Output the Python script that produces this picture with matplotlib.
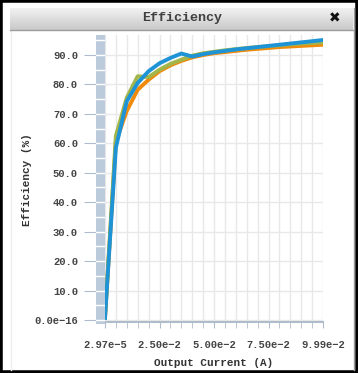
import numpy as np
import matplotlib
matplotlib.use("Agg")
import matplotlib.pyplot as plt
from matplotlib.patches import Rectangle
from matplotlib.lines import Line2D

# data
current = [2.97e-5, 0.005, 0.010, 0.015, 0.020, 0.025, 0.030, 0.035, 0.040, 0.045,
           0.050, 0.055, 0.060, 0.065, 0.070, 0.075, 0.080, 0.085, 0.090, 0.095, 0.0999]
eff_blue = [0.7, 58.5, 74.3, 80.5, 84.5, 87.2, 89.0, 90.5, 89.5, 90.3,
            90.9, 91.4, 91.9, 92.3, 92.7, 93.1, 93.5, 93.9, 94.3, 94.7, 95.1]
eff_green = [0.7, 62.5, 75.5, 82.8, 82.5, 85.0, 87.0, 88.4, 89.8, 90.6,
             91.1, 91.6, 92.0, 92.4, 92.7, 93.0, 93.3, 93.6, 93.9, 94.1, 94.3]
eff_orange = [0.7, 60.5, 71.0, 78.2, 81.6, 84.5, 86.5, 88.0, 89.2, 90.0,
              90.6, 91.0, 91.4, 91.8, 92.1, 92.4, 92.7, 92.9, 93.1, 93.3, 93.5]
y_ticks = [0, 10, 20, 30, 40, 50, 60, 70, 80, 90]
y_labels = ["0.0e\u221216", "10.0", "20.0", "30.0", "40.0", "50.0", "60.0", "70.0", "80.0", "90.0"]
x_labels = ["2.97e\u22125", "2.50e\u22122", "5.00e\u22122", "7.50e\u22122", "9.99e\u22122"]

W, H = 358, 373
fig = plt.figure(figsize=(W / 100, H / 100), dpi=100)
fig.patch.set_facecolor("white")

def fx(px):
    return px / W

def fy(py):
    return 1 - py / H

MONO = ["Liberation Mono", "DejaVu Sans Mono"]

# window frame
fig.add_artist(Rectangle((0, 0), 1, 1, transform=fig.transFigure, fill=False,
                         edgecolor="black", lw=4))
fig.add_artist(Line2D([fx(10.5), fx(10.5)], [fy(30), fy(370)], transform=fig.transFigure,
                      color="#eeeeee", lw=1))
fig.add_artist(Line2D([fx(354), fx(354)], [fy(8), fy(370)], transform=fig.transFigure,
                      color="#9a9a9a", lw=1))

# title bar with gradient
tb = fig.add_axes([fx(10), fy(30), fx(353) - fx(10), fy(8) - fy(30)])
grad = np.linspace(0, 1, 50).reshape(-1, 1)
tb.imshow(grad, aspect="auto", cmap=matplotlib.colors.LinearSegmentedColormap.from_list(
    "tb", ["#f2f2f2", "#c9c9c9"]), extent=[0, 1, 0, 1])
tb.set_axis_off()
fig.add_artist(Line2D([fx(10), fx(353)], [fy(30), fy(30)], transform=fig.transFigure,
                      color="#9c9c9c", lw=1))
fig.text(fx(182), fy(18.5), "Efficiency", ha="center", va="center", fontsize=9.6,
         fontweight="bold", family=MONO, color="#404040")
fig.text(fx(335), fy(18), "\u2716", ha="center", va="center", fontsize=10,
         family=["DejaVu Sans"], color="#111111")

# main plot
left, right, top, bottom = 105, 323, 35, 322
ax = fig.add_axes([fx(left), fy(bottom), fx(right) - fx(left), fy(top) - fy(bottom)])
ax.set_xlim(current[0], current[-1])
ax.set_ylim(-0.7, 96.8)
for s in ["left", "right", "top"]:
    ax.spines[s].set_visible(False)
ax.spines["bottom"].set_color("#b0bccb")
ax.spines["bottom"].set_linewidth(1.5)

xt = np.linspace(current[0], current[-1], 5)
ax.set_xticks(xt)
ax.set_xticklabels(x_labels, family=MONO, fontweight="bold", fontsize=7.6, color="#444444")
ax.set_xticks(np.linspace(current[0], current[-1], 21), minor=True)
ax.tick_params(axis="x", which="both", length=4, color="#b0bccb", pad=9)
ax.set_yticks(y_ticks)
ax.tick_params(axis="y", left=False, labelleft=False)
ax.grid(True, which="minor", axis="x", color="#e8e8e8", lw=1)
ax.grid(True, which="major", axis="x", color="#e8e8e8", lw=1)
ax.grid(True, which="major", axis="y", color="#e8e8e8", lw=1)
ax.set_axisbelow(True)

ax.plot(current, eff_orange, color="#ef8a0a", lw=2.8, solid_joinstyle="round")
ax.plot(current, eff_green, color="#a3b64b", lw=2.8, solid_joinstyle="round")
ax.plot(current, eff_blue, color="#1e93d6", lw=2.8, solid_joinstyle="round")

ax.set_xlabel("Output Current (A)", family=MONO, fontweight="bold", fontsize=7.9,
              color="#333333", labelpad=6)

# left y gutter bar
bar = fig.add_axes([fx(96), fy(324), fx(105) - fx(96), fy(top) - fy(324)])
bar.set_facecolor("#bccbdc")
bar.set_xlim(0, 1)
bar.set_ylim(-0.7 - (324 - bottom) / 2.944, 96.8)
for v in np.arange(0, 96, 5):
    bar.axhline(v, color="white", lw=1)
for s in bar.spines.values():
    s.set_visible(False)
bar.set_xticks([])
bar.set_yticks(y_ticks)
bar.set_yticklabels(y_labels, family=MONO, fontweight="bold", fontsize=7.6, color="#444444")
bar.tick_params(axis="y", length=9, color="#b0bccb", pad=4)

fig.text(fx(27), fy(180), "Efficiency (%)", rotation=90, ha="center", va="center",
         family=MONO, fontweight="bold", fontsize=7.9, color="#333333")

fig.savefig("out.png", dpi=100)
